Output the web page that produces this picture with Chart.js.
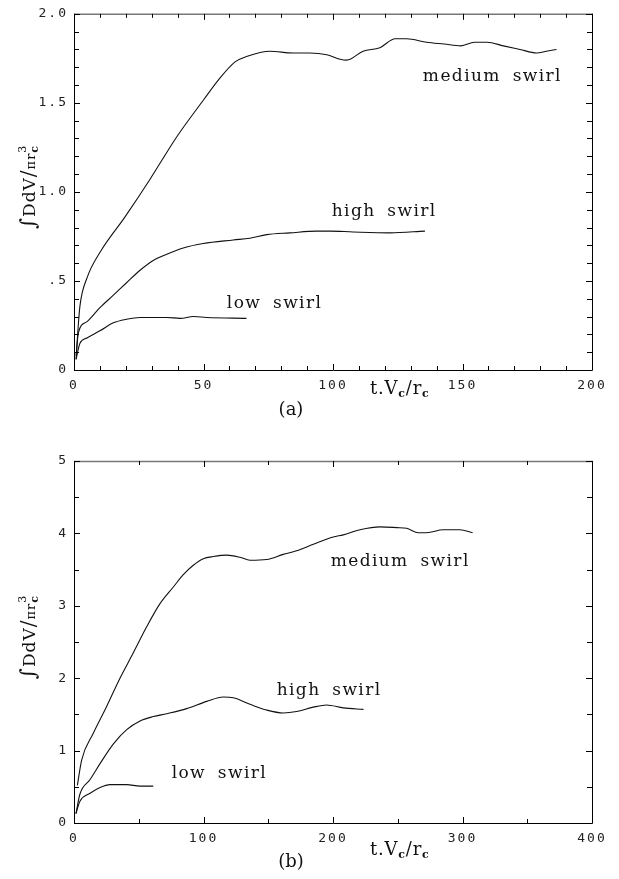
<!DOCTYPE html>
<html>
<head>
<meta charset="utf-8">
<script src="https://cdn.jsdelivr.net/npm/chart.js@4/dist/chart.umd.min.js"></script>
<style>
  html, body { margin: 0; padding: 0; background: #fff; }
  #wrap { position: relative; width: 619px; height: 879px; }
  canvas { position: absolute; left: 0; }
</style>
</head>
<body>
<div id="wrap">
  <canvas id="chartA" width="619" height="430" style="top:0px"></canvas>
  <canvas id="chartB" width="619" height="449" style="top:430px"></canvas>
</div>
<script>
// ---- panel (a) ----
const tA_medium = [0.8, 1.5, 2.3, 5.1, 10, 19.7, 29.3, 39.7, 50.2, 56.4, 62.2, 66.6, 75.7, 84.6, 91, 97.6, 102.7, 105.3, 111.6, 118.1, 124, 128.4, 136.2, 142.9, 149.4, 154.6, 159.5, 165.8, 172.2, 178.6, 182.4, 186.3];
const vA_medium = [0.06, 0.22, 0.36, 0.52, 0.66, 0.86, 1.07, 1.31, 1.52, 1.64, 1.73, 1.76, 1.79, 1.78, 1.78, 1.77, 1.745, 1.74, 1.79, 1.81, 1.86, 1.86, 1.84, 1.83, 1.82, 1.84, 1.84, 1.82, 1.80, 1.78, 1.79, 1.80];
const tA_high = [0.8, 1.7, 4.9, 10, 15.2, 20.3, 25.5, 30.6, 35.8, 42.2, 49.9, 61.5, 67.9, 74.4, 83.4, 93.7, 98.8, 107.8, 122, 135.5];
const vA_high = [0.08, 0.21, 0.27, 0.35, 0.42, 0.49, 0.56, 0.615, 0.65, 0.685, 0.71, 0.73, 0.74, 0.76, 0.77, 0.78, 0.78, 0.775, 0.77, 0.78];
const tA_low = [0.8, 2.3, 5, 10, 15.2, 20.3, 25.5, 35.8, 41, 46.1, 51.2, 66.6];
const vA_low = [0.06, 0.15, 0.18, 0.22, 0.265, 0.285, 0.295, 0.295, 0.29, 0.30, 0.295, 0.29];
const xTicksA = [0, 50, 100, 150, 200];
const yTicksA = [0, 0.5, 1.0, 1.5, 2.0];
const yTickLabelsA = ['0', '.5', '1.0', '1.5', '2.0'];

// ---- panel (b) ----
const tB_medium = [2.6, 5.9, 14.9, 25.2, 35.5, 45.8, 56.1, 66.4, 76.7, 84.4, 92.1, 99.9, 107.6, 117.9, 128.2, 135.9, 148.8, 161.6, 171.9, 184.8, 200.2, 207.9, 220.8, 236.3, 249.2, 256.9, 265.9, 272.3, 285.2, 298, 307.8];
const vB_medium = [0.52, 0.87, 1.24, 1.61, 2.0, 2.35, 2.71, 3.03, 3.26, 3.43, 3.56, 3.65, 3.68, 3.70, 3.67, 3.63, 3.64, 3.71, 3.76, 3.85, 3.95, 3.98, 4.05, 4.09, 4.08, 4.07, 4.01, 4.01, 4.05, 4.05, 4.01];
const tB_high = [1.5, 4.6, 12.4, 20.1, 30.3, 40.7, 51, 61.2, 71.6, 87, 102.5, 115.3, 123, 135.9, 148.8, 161.6, 171.9, 184.8, 195.1, 208, 223.5];
const vB_high = [0.13, 0.40, 0.60, 0.82, 1.09, 1.29, 1.41, 1.47, 1.51, 1.58, 1.68, 1.74, 1.73, 1.64, 1.56, 1.52, 1.54, 1.60, 1.63, 1.59, 1.57];
const tB_low = [1.5, 4.6, 12.4, 20.1, 27.8, 40.7, 51, 61.2];
const vB_low = [0.13, 0.30, 0.41, 0.49, 0.53, 0.53, 0.51, 0.51];
const xTicksB = [0, 100, 200, 300, 400];
const yTicksB = [0, 1, 2, 3, 4, 5];
const yTickLabelsB = ['0', '1', '2', '3', '4', '5'];

// curve labels, in data units
const notesA = [
  { text: 'medium swirl', x: 134.7, y: 1.62 },
  { text: 'high swirl', x: 99.5, y: 0.865 },
  { text: 'low swirl', x: 59, y: 0.347 },
];
const notesB = [
  { text: 'medium swirl', x: 198.2, y: 3.55 },
  { text: 'high swirl', x: 156.5, y: 1.77 },
  { text: 'low swirl', x: 75.4, y: 0.62 },
];

const MONO = '"DejaVu Sans Mono", monospace';
const SERIF = '"DejaVu Serif", serif';

function pts(xs, ys) {
  return xs.map((x, i) => ({ x, y: ys[i] }));
}

function line(data) {
  return {
    data,
    showLine: true,
    borderColor: '#111',
    borderWidth: 1.1,
    pointRadius: 0,
    tension: 0.4,
    cubicInterpolationMode: 'monotone',
    fill: false,
  };
}

// draws a run of text pieces; a piece with stack:true does not advance x
function rich(ctx, pieces, x, y, measureOnly) {
  let cx = x;
  let total = 0;
  for (const p of pieces) {
    ctx.font = (p.bold ? 'bold ' : '') + p.size + 'px ' + SERIF;
    const w = ctx.measureText(p.t).width;
    if (!measureOnly) ctx.fillText(p.t, cx, y + (p.dy || 0));
    if (!p.stack) { cx += w; total += w; }
  }
  return total;
}

const decor = {
  id: 'decor',
  beforeDraw(chart) {
    chart.ctx.letterSpacing = '2px';
  },
  afterDraw(chart, args, o) {
    const { ctx, chartArea: a, scales } = chart;
    const xs = scales.x, ys = scales.y;
    ctx.save();
    ctx.letterSpacing = '0px';

    // frame
    ctx.strokeStyle = '#000';
    ctx.lineWidth = 1;
    ctx.beginPath();
    ctx.moveTo(a.left + 0.5, a.top);
    ctx.lineTo(a.left + 0.5, a.bottom + 0.5);
    ctx.lineTo(a.right + 0.5, a.bottom + 0.5);
    ctx.lineTo(a.right + 0.5, a.top);
    ctx.stroke();
    ctx.strokeStyle = '#777';
    ctx.lineWidth = 1.6;
    ctx.beginPath();
    ctx.moveTo(a.left, a.top + 0.5);
    ctx.lineTo(a.right + 1, a.top + 0.5);
    ctx.stroke();

    // inward ticks on all four sides
    ctx.strokeStyle = '#000';
    ctx.lineWidth = 1;
    ctx.beginPath();
    for (let v = xs.min; v <= xs.max + 1e-9; v += o.xMinor) {
      const major = Math.abs(v / o.xMajor - Math.round(v / o.xMajor)) < 1e-6;
      const len = major ? 6 : 4;
      const px = Math.round(xs.getPixelForValue(v)) + 0.5;
      ctx.moveTo(px, a.bottom); ctx.lineTo(px, a.bottom - len);
      ctx.moveTo(px, a.top); ctx.lineTo(px, a.top + len);
    }
    for (let v = ys.min; v <= ys.max + 1e-9; v += o.yMinor) {
      const major = Math.abs(v / o.yMajor - Math.round(v / o.yMajor)) < 1e-6;
      const len = major ? 6 : 5;
      const py = Math.round(ys.getPixelForValue(v)) + 0.5;
      ctx.moveTo(a.left, py); ctx.lineTo(a.left + len, py);
      ctx.moveTo(a.right, py); ctx.lineTo(a.right - len, py);
    }
    ctx.stroke();

    ctx.fillStyle = '#111';
    ctx.textAlign = 'left';
    ctx.textBaseline = 'alphabetic';

    // curve labels
    ctx.letterSpacing = '1.4px';
    ctx.wordSpacing = '5px';
    ctx.font = '17px ' + SERIF;
    for (const n of o.notes) {
      ctx.fillText(n.text, xs.getPixelForValue(n.x), ys.getPixelForValue(n.y));
    }
    ctx.wordSpacing = '0px';
    ctx.letterSpacing = '0.8px';

    // x title t.Vc/rc
    rich(ctx, [
      { t: 't.V', size: 18 },
      { t: 'c', size: 11, dy: 3, bold: true },
      { t: '/r', size: 18 },
      { t: 'c', size: 11, dy: 3, bold: true },
    ], a.left + 296, a.bottom + o.xTitleDy);

    // y title ∫DdV/πrc³, rotated
    ctx.letterSpacing = '1px';
    const ytitle = [
      { t: '\u222B', size: 21 },
      { t: 'DdV', size: 17 },
      { t: '/', size: 20 },
      { t: '\u03C0r', size: 13 },
      { t: '3', size: 11, dy: -9, stack: true },
      { t: 'c', size: 11, dy: 3, bold: true },
    ];
    ctx.save();
    ctx.translate(35, (a.top + a.bottom) / 2 - 5);
    ctx.rotate(-Math.PI / 2);
    const w = rich(ctx, ytitle, 0, 0, true);
    rich(ctx, ytitle, -w / 2, 0);
    ctx.restore();
    ctx.letterSpacing = '0px';

    // panel caption
    ctx.textAlign = 'center';
    ctx.font = '18px ' + SERIF;
    ctx.fillText(o.caption, a.left + 217, a.bottom + o.captionDy);

    ctx.restore();
  },
};

function makeChart(id, cfg) {
  const tickFont = { family: MONO, size: 13 };
  return new Chart(document.getElementById(id), {
    type: 'scatter',
    data: { datasets: cfg.datasets },
    options: {
      responsive: false,
      animation: false,
      events: [],
      layout: { padding: { left: 0, right: 27, top: cfg.padTop, bottom: 0 } },
      plugins: {
        legend: { display: false },
        tooltip: { enabled: false },
        decor: cfg.decor,
      },
      scales: {
        x: {
          type: 'linear',
          min: cfg.xTicks[0],
          max: cfg.xTicks[cfg.xTicks.length - 1],
          grid: { display: false, drawTicks: false },
          border: { display: false },
          afterBuildTicks: (s) => { s.ticks = cfg.xTicks.map((v) => ({ value: v })); },
          ticks: { padding: 7.5, font: tickFont, color: '#222', maxRotation: 0, callback: (v) => String(v) },
          afterFit: (s) => { s.height = cfg.xHeight; },
        },
        y: {
          type: 'linear',
          min: cfg.yTicks[0],
          max: cfg.yTicks[cfg.yTicks.length - 1],
          grid: { display: false, drawTicks: false },
          border: { display: false },
          afterBuildTicks: (s) => { s.ticks = cfg.yTicks.map((v) => ({ value: v })); },
          ticks: {
            padding: 6, font: tickFont, color: '#222',
            callback: (v) => cfg.yLabels[cfg.yTicks.indexOf(v)] ?? String(v),
          },
          afterFit: (s) => { s.width = 74; },
        },
      },
    },
    plugins: [decor],
  });
}

makeChart('chartA', {
  datasets: [line(pts(tA_medium, vA_medium)), line(pts(tA_high, vA_high)), line(pts(tA_low, vA_low))],
  xTicks: xTicksA, yTicks: yTicksA, yLabels: yTickLabelsA,
  padTop: 7, xHeight: 60,
  decor: { xMinor: 10, xMajor: 50, yMinor: 0.1, yMajor: 0.5, notes: notesA, caption: '(a)', xTitleDy: 23.5, captionDy: 44.5 },
});

makeChart('chartB', {
  datasets: [line(pts(tB_medium, vB_medium)), line(pts(tB_high, vB_high)), line(pts(tB_low, vB_low))],
  xTicks: xTicksB, yTicks: yTicksB, yLabels: yTickLabelsB,
  padTop: 31, xHeight: 56,
  decor: { xMinor: 50, xMajor: 100, yMinor: 0.5, yMajor: 1, notes: notesB, caption: '(b)', xTitleDy: 32, captionDy: 44 },
});
</script>
</body>
</html>
